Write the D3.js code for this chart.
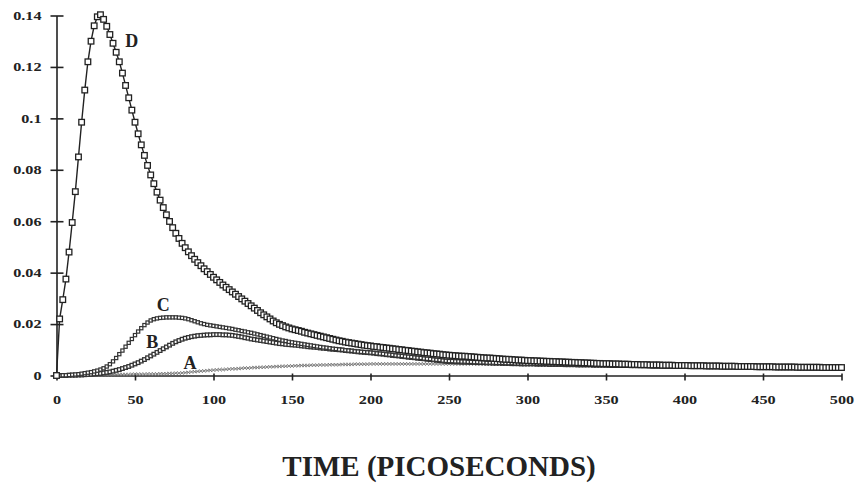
<!DOCTYPE html>
<html>
<head>
  <meta charset="utf-8">
  <script src="https://cdn.jsdelivr.net/npm/d3@7"></script>
  <style>
    body { margin: 0; background: #fff; }
    text { font-family: "Liberation Serif", "Times New Roman", serif; font-weight: bold; fill: #222; }
  </style>
</head>
<body>
<script>
  // sample times, every 2 ps from 0 to 500
  var times = d3.range(0, 501, 2);

  var xTicks = [0, 50, 100, 150, 200, 250, 300, 350, 400, 450, 500];
  var yTicks = [0, 0.02, 0.04, 0.06, 0.08, 0.1, 0.12, 0.14];

  var seriesD = [0,
    0.0220,0.0295,0.0375,0.0480,0.0595,0.0715,0.0850,0.0985,0.1110,0.1220,
    0.1300,0.1360,0.1395,0.1403,0.1385,0.1358,0.1326,0.1292,0.1257,0.1220,
    0.1176,0.1128,0.1080,0.1032,0.0985,0.0940,0.0897,0.0856,0.0817,0.0780,
    0.0746,0.0713,0.0682,0.0653,0.0625,0.0599,0.0575,0.0553,0.0533,0.0514,
    0.0497,0.0481,0.0466,0.0452,0.0439,0.0427,0.0415,0.0404,0.0393,0.0382,
    0.0372,0.0362,0.0352,0.0343,0.0334,0.0325,0.0316,0.0307,0.0298,0.0289,
    0.0280,0.0271,0.0262,0.0253,0.0244,0.0236,0.0228,0.0220,0.0212,0.0205,
    0.0199,0.0194,0.0189,0.0185,0.0181,0.0178,0.0175,0.0172,0.0168,0.0165,
    0.0162,0.0159,0.0156,0.0153,0.0150,0.0147,0.0144,0.0141,0.0138,0.0135,
    0.0133,0.0130,0.0128,0.0126,0.0124,0.0122,0.0120,0.0118,0.0116,0.0115,
    0.0113,0.0112,0.0110,0.0109,0.0107,0.0106,0.0104,0.0103,0.0101,0.0100,
    0.0098,0.0097,0.0095,0.0094,0.0092,0.0091,0.0089,0.0088,0.0087,0.0085,
    0.0084,0.0083,0.0081,0.0080,0.0079,0.0078,0.0077,0.0076,0.0075,0.0075,
    0.0074,0.0073,0.0072,0.0071,0.0070,0.0069,0.0068,0.0068,0.0067,0.0066,
    0.0065,0.0064,0.0063,0.0063,0.0062,0.0061,0.0060,0.0060,0.0059,0.0058,
    0.0058,0.0057,0.0057,0.0056,0.0056,0.0055,0.0055,0.0054,0.0054,0.0053,
    0.0053,0.0052,0.0052,0.0051,0.0051,0.0050,0.0050,0.0049,0.0049,0.0048,
    0.0048,0.0047,0.0047,0.0046,0.0046,0.0046,0.0045,0.0045,0.0045,0.0044,
    0.0044,0.0044,0.0043,0.0043,0.0043,0.0042,0.0042,0.0042,0.0041,0.0041,
    0.0041,0.0041,0.0040,0.0040,0.0040,0.0040,0.0039,0.0039,0.0039,0.0039,
    0.0039,0.0038,0.0038,0.0038,0.0038,0.0038,0.0037,0.0037,0.0037,0.0037,
    0.0037,0.0036,0.0036,0.0036,0.0036,0.0036,0.0035,0.0035,0.0035,0.0035,
    0.0035,0.0035,0.0034,0.0034,0.0034,0.0034,0.0034,0.0034,0.0033,0.0033,
    0.0033,0.0033,0.0033,0.0033,0.0033,0.0032,0.0032,0.0032,0.0032,0.0032,
    0.0032,0.0032,0.0032,0.0031,0.0031,0.0031,0.0031,0.0031,0.0031,0.0031];

  var seriesC = [0,
    0.0000,0.0001,0.0001,0.0002,0.0003,0.0004,0.0005,0.0007,0.0009,0.0011,
    0.0013,0.0016,0.0019,0.0023,0.0028,0.0035,0.0044,0.0055,0.0068,0.0083,
    0.0097,0.0112,0.0127,0.0142,0.0157,0.0171,0.0184,0.0196,0.0206,0.0214,
    0.0219,0.0222,0.0224,0.0225,0.0226,0.0226,0.0226,0.0226,0.0225,0.0224,
    0.0222,0.0219,0.0215,0.0211,0.0207,0.0203,0.0200,0.0197,0.0195,0.0193,
    0.0191,0.0189,0.0187,0.0185,0.0183,0.0181,0.0178,0.0176,0.0173,0.0171,
    0.0168,0.0166,0.0163,0.0160,0.0157,0.0154,0.0151,0.0148,0.0145,0.0142,
    0.0139,0.0136,0.0134,0.0131,0.0129,0.0127,0.0125,0.0123,0.0121,0.0119,
    0.0117,0.0115,0.0113,0.0111,0.0109,0.0108,0.0106,0.0104,0.0103,0.0101,
    0.0100,0.0098,0.0097,0.0096,0.0094,0.0093,0.0092,0.0091,0.0090,0.0089,
    0.0088,0.0086,0.0085,0.0084,0.0082,0.0081,0.0080,0.0078,0.0077,0.0076,
    0.0074,0.0073,0.0072,0.0070,0.0069,0.0068,0.0066,0.0065,0.0064,0.0062,
    0.0061,0.0060,0.0058,0.0057,0.0056,0.0056,0.0055,0.0055,0.0054,0.0054,
    0.0053,0.0053,0.0052,0.0052,0.0051,0.0051,0.0050,0.0050,0.0050,0.0049,
    0.0049,0.0049,0.0048,0.0048,0.0048,0.0047,0.0047,0.0047,0.0046,0.0046,
    0.0046,0.0046,0.0045,0.0045,0.0045,0.0045,0.0044,0.0044,0.0044,0.0044,
    0.0044,0.0043,0.0043,0.0043,0.0043,0.0042,0.0042,0.0042,0.0042,0.0042,
    0.0041,0.0041,0.0041,0.0041,0.0041,0.0040,0.0040,0.0040,0.0040,0.0040,
    0.0040,0.0039,0.0039,0.0039,0.0039,0.0039,0.0039,0.0039,0.0038,0.0038,
    0.0038,0.0038,0.0038,0.0038,0.0038,0.0038,0.0037,0.0037,0.0037,0.0037,
    0.0037,0.0037,0.0037,0.0036,0.0036,0.0036,0.0036,0.0036,0.0036,0.0035,
    0.0035,0.0035,0.0035,0.0035,0.0035,0.0034,0.0034,0.0034,0.0034,0.0034,
    0.0034,0.0033,0.0033,0.0033,0.0033,0.0033,0.0033,0.0032,0.0032,0.0032,
    0.0032,0.0032,0.0032,0.0032,0.0031,0.0031,0.0031,0.0031,0.0031,0.0031,
    0.0031,0.0031,0.0030,0.0030,0.0030,0.0030,0.0030,0.0030,0.0030,0.0030];

  var seriesB = [0,
    0.0000,0.0000,0.0000,0.0001,0.0001,0.0001,0.0002,0.0002,0.0003,0.0004,
    0.0005,0.0006,0.0007,0.0008,0.0010,0.0012,0.0014,0.0017,0.0020,0.0023,
    0.0027,0.0031,0.0035,0.0040,0.0045,0.0050,0.0056,0.0062,0.0069,0.0076,
    0.0083,0.0090,0.0097,0.0104,0.0111,0.0118,0.0125,0.0131,0.0136,0.0141,
    0.0145,0.0148,0.0151,0.0153,0.0155,0.0156,0.0157,0.0158,0.0158,0.0159,
    0.0159,0.0159,0.0158,0.0158,0.0157,0.0156,0.0154,0.0152,0.0150,0.0147,
    0.0145,0.0142,0.0140,0.0138,0.0136,0.0134,0.0132,0.0130,0.0128,0.0126,
    0.0124,0.0123,0.0121,0.0120,0.0119,0.0118,0.0117,0.0115,0.0114,0.0112,
    0.0111,0.0110,0.0109,0.0107,0.0106,0.0105,0.0103,0.0102,0.0101,0.0100,
    0.0099,0.0097,0.0096,0.0095,0.0094,0.0092,0.0091,0.0090,0.0089,0.0088,
    0.0087,0.0085,0.0084,0.0083,0.0081,0.0080,0.0078,0.0077,0.0076,0.0074,
    0.0073,0.0071,0.0070,0.0069,0.0067,0.0066,0.0065,0.0063,0.0062,0.0061,
    0.0059,0.0058,0.0057,0.0055,0.0054,0.0054,0.0053,0.0053,0.0052,0.0052,
    0.0052,0.0051,0.0051,0.0050,0.0050,0.0050,0.0049,0.0049,0.0048,0.0048,
    0.0048,0.0047,0.0047,0.0047,0.0046,0.0046,0.0046,0.0045,0.0045,0.0045,
    0.0045,0.0045,0.0044,0.0044,0.0044,0.0044,0.0043,0.0043,0.0043,0.0043,
    0.0043,0.0042,0.0042,0.0042,0.0042,0.0041,0.0041,0.0041,0.0041,0.0041,
    0.0040,0.0040,0.0040,0.0040,0.0040,0.0040,0.0039,0.0039,0.0039,0.0039,
    0.0039,0.0039,0.0038,0.0038,0.0038,0.0038,0.0038,0.0038,0.0038,0.0037,
    0.0037,0.0037,0.0037,0.0037,0.0037,0.0037,0.0037,0.0036,0.0036,0.0036,
    0.0036,0.0036,0.0036,0.0036,0.0035,0.0035,0.0035,0.0035,0.0035,0.0035,
    0.0035,0.0034,0.0034,0.0034,0.0034,0.0034,0.0034,0.0033,0.0033,0.0033,
    0.0033,0.0033,0.0033,0.0033,0.0032,0.0032,0.0032,0.0032,0.0032,0.0032,
    0.0032,0.0031,0.0031,0.0031,0.0031,0.0031,0.0031,0.0031,0.0031,0.0030,
    0.0030,0.0030,0.0030,0.0030,0.0030,0.0030,0.0030,0.0030,0.0030,0.0030];

  var seriesA = [0,
    0.0000,0.0000,0.0000,0.0001,0.0001,0.0001,0.0001,0.0001,0.0002,0.0002,
    0.0002,0.0002,0.0002,0.0003,0.0003,0.0003,0.0003,0.0003,0.0004,0.0004,
    0.0004,0.0004,0.0004,0.0005,0.0005,0.0005,0.0005,0.0005,0.0006,0.0006,
    0.0006,0.0006,0.0007,0.0007,0.0007,0.0008,0.0008,0.0009,0.0009,0.0010,
    0.0011,0.0012,0.0014,0.0015,0.0016,0.0017,0.0018,0.0019,0.0020,0.0021,
    0.0022,0.0023,0.0023,0.0024,0.0025,0.0026,0.0026,0.0027,0.0028,0.0029,
    0.0029,0.0030,0.0031,0.0031,0.0032,0.0032,0.0033,0.0034,0.0034,0.0035,
    0.0035,0.0036,0.0036,0.0037,0.0037,0.0038,0.0038,0.0039,0.0039,0.0039,
    0.0040,0.0040,0.0040,0.0041,0.0041,0.0041,0.0042,0.0042,0.0042,0.0042,
    0.0043,0.0043,0.0043,0.0043,0.0044,0.0044,0.0044,0.0044,0.0044,0.0045,
    0.0045,0.0045,0.0045,0.0045,0.0045,0.0045,0.0045,0.0045,0.0045,0.0045,
    0.0045,0.0045,0.0045,0.0045,0.0045,0.0045,0.0045,0.0045,0.0045,0.0045,
    0.0045,0.0045,0.0045,0.0045,0.0045,0.0045,0.0045,0.0045,0.0045,0.0045,
    0.0045,0.0045,0.0045,0.0045,0.0045,0.0044,0.0044,0.0044,0.0044,0.0044,
    0.0044,0.0044,0.0044,0.0044,0.0044,0.0043,0.0043,0.0043,0.0043,0.0043,
    0.0043,0.0043,0.0043,0.0042,0.0042,0.0042,0.0042,0.0042,0.0042,0.0042,
    0.0041,0.0041,0.0041,0.0041,0.0041,0.0041,0.0041,0.0040,0.0040,0.0040,
    0.0040,0.0040,0.0040,0.0040,0.0039,0.0039,0.0039,0.0039,0.0039,0.0039,
    0.0039,0.0038,0.0038,0.0038,0.0038,0.0038,0.0038,0.0038,0.0037,0.0037,
    0.0037,0.0037,0.0037,0.0037,0.0037,0.0036,0.0036,0.0036,0.0036,0.0036,
    0.0036,0.0036,0.0035,0.0035,0.0035,0.0035,0.0035,0.0035,0.0035,0.0034,
    0.0034,0.0034,0.0034,0.0034,0.0034,0.0034,0.0033,0.0033,0.0033,0.0033,
    0.0033,0.0033,0.0033,0.0032,0.0032,0.0032,0.0032,0.0032,0.0032,0.0032,
    0.0031,0.0031,0.0031,0.0031,0.0031,0.0031,0.0031,0.0030,0.0030,0.0030,
    0.0030,0.0030,0.0030,0.0030,0.0030,0.0029,0.0029,0.0029,0.0029,0.0029];

  var curveLabels = ["A", "B", "C", "D"];
  var labelTimes = [85, 61, 68, 48];
  var labelValues = [0.0047, 0.0131, 0.0274, 0.1300];

  var width = 858, height = 491, stretch = 1.35;

  var svg = d3.select("body").append("svg")
      .attr("width", width)
      .attr("height", height);

  var x = d3.scaleLinear().domain([0, 500]).range([56.5, 841.5]);
  var y = d3.scaleLinear().domain([0, 0.14]).range([375.5, 15.5]);

  // y axis
  var yAxis = svg.append("g")
      .attr("transform", "translate(" + x(0) + ",0)")
      .call(d3.axisLeft(y).tickValues(yTicks).tickFormat(d3.format("")).tickSizeOuter(0));
  yAxis.select(".domain").attr("stroke", "#222").attr("stroke-width", 1.6);
  yAxis.selectAll(".tick line").attr("x1", 7).attr("x2", -6).attr("stroke", "#222").attr("stroke-width", 1.6);
  yAxis.selectAll(".tick text")
      .attr("x", -15 / stretch)
      .attr("transform", "scale(" + stretch + ",1)")
      .style("font-size", "12px");

  // x axis
  var xAxis = svg.append("g")
      .attr("transform", "translate(0," + y(0) + ")")
      .call(d3.axisBottom(x).tickValues(xTicks).tickFormat(d3.format("d")).tickSizeOuter(0));
  xAxis.select(".domain").attr("stroke", "#222").attr("stroke-width", 1.6);
  xAxis.selectAll(".tick line").attr("y1", -2).attr("y2", 5).attr("stroke", "#222").attr("stroke-width", 1.6);
  xAxis.selectAll(".tick text")
      .attr("y", 20)
      .attr("transform", "scale(" + stretch + ",1)")
      .style("font-size", "12px");

  var line = d3.line()
      .x(function (d, i) { return x(times[i]); })
      .y(function (d) { return y(d); });

  // A: faint crosses
  svg.append("path").datum(seriesA)
      .attr("d", line).attr("fill", "none").attr("stroke", "#888").attr("stroke-width", 0.8);
  svg.append("g").selectAll("path").data(seriesA).enter().append("path")
      .attr("transform", function (d, i) { return "translate(" + x(times[i]) + "," + y(d) + ")"; })
      .attr("d", d3.symbol(d3.symbolTimes, 9))
      .attr("fill", "none").attr("stroke", "#777").attr("stroke-width", 0.9);

  // B and C: small hollow squares
  [[seriesB, 3.6, 1.3], [seriesC, 3.2, 1.2]].forEach(function (s) {
    svg.append("path").datum(s[0])
        .attr("d", line).attr("fill", "none").attr("stroke", "#333").attr("stroke-width", 1);
    svg.append("g").selectAll("rect").data(s[0]).enter().append("rect")
        .attr("x", function (d, i) { return x(times[i]) - s[1] / 2; })
        .attr("y", function (d) { return y(d) - s[1] / 2; })
        .attr("width", s[1]).attr("height", s[1])
        .attr("fill", "#fff").attr("stroke", "#333").attr("stroke-width", s[2]);
  });

  // D: open squares joined by a line
  svg.append("path").datum(seriesD)
      .attr("d", line).attr("fill", "none").attr("stroke", "#222").attr("stroke-width", 1.4);
  svg.append("g").selectAll("rect").data(seriesD).enter().append("rect")
      .attr("x", function (d, i) { return x(times[i]) - 2.8; })
      .attr("y", function (d) { return y(d) - 2.8; })
      .attr("width", 5.6).attr("height", 5.6)
      .attr("fill", "#fff").attr("stroke", "#222").attr("stroke-width", 1.3);

  // curve letters
  svg.append("g").selectAll("text").data(curveLabels).enter().append("text")
      .attr("x", function (d, i) { return x(labelTimes[i]); })
      .attr("y", function (d, i) { return y(labelValues[i]); })
      .attr("text-anchor", "middle")
      .attr("dominant-baseline", "central")
      .style("font-size", "18px")
      .text(function (d) { return d; });

  svg.append("text")
      .attr("x", 439)
      .attr("y", 476)
      .attr("text-anchor", "middle")
      .style("font-size", "29px")
      .text("TIME (PICOSECONDS)");
</script>
</body>
</html>
